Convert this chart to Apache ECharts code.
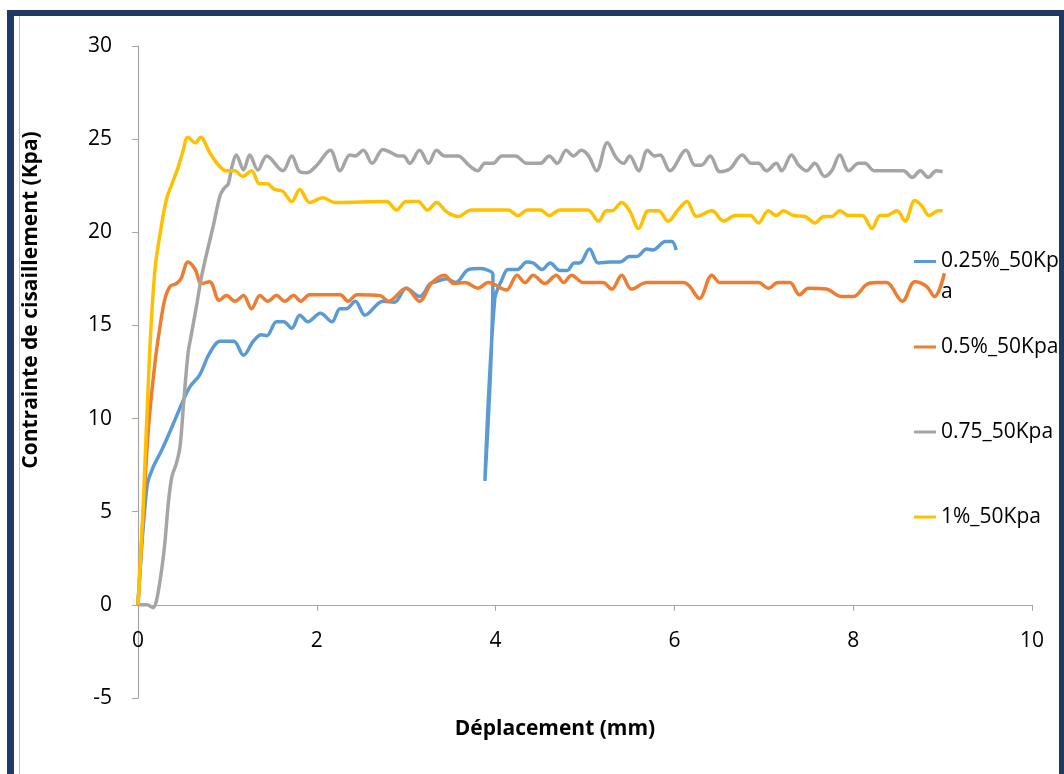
<!DOCTYPE html>
<html>
<head>
<meta charset="utf-8">
<script src="https://cdn.jsdelivr.net/npm/echarts@6/dist/echarts.min.js"></script>
<style>
html,body{margin:0;padding:0;background:#fff;}
#chart{width:1064px;height:774px;}
</style>
</head>
<body>
<div id="chart"></div>
<script>
// ---- Data (x: Déplacement mm, y: Contrainte Kpa) ----
const seriesNames = ['0.25%_50Kpa', '0.5%_50Kpa', '0.75_50Kpa', '1%_50Kpa'];
const xTicks = [0, 2, 4, 6, 8, 10];
const yTicks = [-5, 0, 5, 10, 15, 20, 25, 30];

const blueData = [[0,0],[0.1,6.35],[0.17,7.4],[0.265,8.3],[0.38,9.55],[0.49,10.8],[0.58,11.7],[0.69,12.35],[0.8,13.5],[0.92,14.15],[1.07,14.15],[1.18,13.4],[1.29,14.15],[1.38,14.5],[1.44,14.45],[1.55,15.2],[1.63,15.2],[1.72,14.85],[1.81,15.55],[1.9,15.2],[2.04,15.65],[2.17,15.2],[2.26,15.9],[2.33,15.9],[2.43,16.3],[2.54,15.55],[2.74,16.3],[2.87,16.25],[3.0,17.0],[3.15,16.55],[3.27,17.25],[3.34,17.35],[3.45,17.5],[3.55,17.3],[3.7,18.0],[3.83,18.05],[3.92,17.95],[3.97,17.75],[3.88,6.65],[3.99,16.4],[4.07,17.45],[4.14,18.0],[4.24,18.0],[4.35,18.4],[4.42,18.35],[4.52,18.0],[4.61,18.35],[4.72,17.95],[4.8,17.95],[4.88,18.35],[4.94,18.35],[5.05,19.1],[5.15,18.35],[5.28,18.4],[5.39,18.4],[5.5,18.7],[5.58,18.7],[5.69,19.1],[5.76,19.05],[5.9,19.5],[5.97,19.5],[6.02,19.05]];

const orangeData = [[0,0],[0.06,5.0],[0.115,9.4],[0.19,13.0],[0.245,14.9],[0.3,16.4],[0.36,17.1],[0.43,17.25],[0.48,17.5],[0.56,18.4],[0.64,18.0],[0.71,17.25],[0.8,17.35],[0.91,16.35],[0.99,16.6],[1.085,16.3],[1.18,16.6],[1.27,15.9],[1.365,16.6],[1.45,16.3],[1.55,16.6],[1.64,16.3],[1.74,16.6],[1.82,16.3],[1.92,16.65],[2.26,16.65],[2.35,16.3],[2.45,16.65],[2.71,16.6],[2.8,16.3],[3.0,17.0],[3.15,16.3],[3.28,17.25],[3.43,17.7],[3.53,17.25],[3.66,17.3],[3.8,17.0],[3.92,17.3],[4.12,16.9],[4.24,17.7],[4.33,17.3],[4.42,17.7],[4.55,17.25],[4.68,17.7],[4.76,17.3],[4.85,17.7],[4.98,17.3],[5.2,17.3],[5.3,16.95],[5.41,17.7],[5.52,16.95],[5.69,17.3],[6.1,17.3],[6.17,17.1],[6.28,16.45],[6.42,17.7],[6.51,17.3],[6.94,17.3],[7.05,17.0],[7.16,17.3],[7.29,17.3],[7.4,16.65],[7.5,17.0],[7.7,16.95],[7.87,16.55],[8.0,16.55],[8.15,17.2],[8.26,17.3],[8.37,17.3],[8.55,16.3],[8.69,17.35],[8.82,17.1],[8.91,16.55],[9.02,17.8]];

const grayData = [[0,0],[0.1,0],[0.17,-0.15],[0.21,0.3],[0.265,1.9],[0.3,3.3],[0.34,5.5],[0.38,6.9],[0.43,7.6],[0.47,8.5],[0.51,10.8],[0.56,13.5],[0.6,14.6],[0.66,16.2],[0.71,17.6],[0.77,18.9],[0.84,20.3],[0.92,22.0],[0.97,22.4],[1.01,22.6],[1.05,23.5],[1.1,24.15],[1.18,23.35],[1.25,24.15],[1.34,23.35],[1.44,24.1],[1.62,23.3],[1.72,24.1],[1.81,23.25],[1.89,23.2],[2.0,23.6],[2.15,24.4],[2.26,23.3],[2.37,24.15],[2.43,24.1],[2.52,24.4],[2.62,23.7],[2.74,24.45],[2.82,24.3],[2.91,24.1],[2.97,24.1],[3.04,23.7],[3.15,24.4],[3.25,23.7],[3.34,24.4],[3.43,24.1],[3.58,24.1],[3.7,23.6],[3.8,23.3],[3.88,23.7],[3.97,23.7],[4.07,24.1],[4.22,24.1],[4.35,23.7],[4.5,23.7],[4.6,24.1],[4.69,23.7],[4.79,24.4],[4.87,24.1],[4.96,24.4],[5.04,24.1],[5.13,23.3],[5.25,24.8],[5.35,24.0],[5.43,23.7],[5.5,24.1],[5.6,23.3],[5.7,24.4],[5.78,24.1],[5.84,24.15],[5.95,23.3],[6.13,24.4],[6.23,23.6],[6.3,23.6],[6.4,24.1],[6.51,23.25],[6.62,23.4],[6.76,24.15],[6.86,23.7],[6.94,23.7],[7.03,23.3],[7.14,23.7],[7.2,23.3],[7.31,24.15],[7.39,23.6],[7.48,23.3],[7.57,23.7],[7.68,23.0],[7.76,23.3],[7.85,24.15],[7.95,23.3],[8.06,23.7],[8.13,23.7],[8.24,23.3],[8.56,23.3],[8.66,22.95],[8.75,23.3],[8.84,22.95],[8.93,23.3],[9.0,23.25]];

const yellowData = [[0,0],[0.06,5.5],[0.13,13.5],[0.19,18.0],[0.26,20.3],[0.32,21.8],[0.38,22.6],[0.45,23.5],[0.5,24.3],[0.56,25.1],[0.64,24.8],[0.7,25.1],[0.8,24.3],[0.9,23.6],[0.99,23.3],[1.08,23.3],[1.17,23.0],[1.27,23.3],[1.36,22.6],[1.44,22.6],[1.53,22.3],[1.62,22.2],[1.72,21.65],[1.81,22.3],[1.92,21.6],[2.07,21.85],[2.2,21.6],[2.78,21.65],[2.89,21.2],[3.0,21.65],[3.13,21.65],[3.24,21.2],[3.34,21.6],[3.45,21.1],[3.58,20.85],[3.73,21.2],[4.14,21.2],[4.25,20.9],[4.36,21.2],[4.5,21.2],[4.6,20.9],[4.72,21.2],[5.03,21.2],[5.15,20.6],[5.24,21.15],[5.3,21.15],[5.41,21.6],[5.5,21.15],[5.6,20.2],[5.71,21.15],[5.82,21.15],[5.93,20.6],[6.04,21.2],[6.14,21.65],[6.25,20.85],[6.42,21.15],[6.55,20.6],[6.68,20.9],[6.85,20.9],[6.94,20.5],[7.05,21.15],[7.14,20.9],[7.22,21.15],[7.33,20.9],[7.46,20.85],[7.57,20.5],[7.67,20.85],[7.76,20.85],[7.85,21.15],[7.95,20.9],[8.1,20.9],[8.21,20.2],[8.3,20.9],[8.37,20.9],[8.49,21.15],[8.58,20.6],[8.69,21.7],[8.77,21.4],[8.85,20.9],[8.95,21.15],[9.0,21.15]];

const seriesData = [blueData, orangeData, grayData, yellowData];
const colors = ['#5B9BD5', '#ED7D31', '#A5A5A5', '#FFC000'];

const FONT = 'Open Sans';
const GRID_TOP = 46, GRID_BOTTOM = 76, CH = 774;
// x axis crosses the y axis at value 0: offset it up from the grid bottom
const plotH = CH - GRID_TOP - GRID_BOTTOM;
const zeroOffset = -plotH * (0 - yTicks[0]) / (yTicks[yTicks.length - 1] - yTicks[0]);

const chart = echarts.init(document.getElementById('chart'), null, {renderer: 'canvas'});

const legendTops = [215, 334, 419, 504];
const legends = seriesNames.map((n, i) => {
  const lg = {
    data: [n],
    orient: 'vertical',
    left: 914,
    top: legendTops[i],
    padding: 0,
    icon: 'rect',
    itemWidth: 22,
    itemHeight: 3,
    itemGap: 0,
    textStyle: {fontFamily: FONT, fontSize: 21, color: '#000', lineHeight: 26}
  };
  if (i === 0) {
    // legend label wraps in the reference: icon aligned with the first line
    lg.formatter = function () { return '\n0.25%_50Kp\na'; };
    lg.textStyle = {fontFamily: FONT, fontSize: 21, color: '#000', lineHeight: 31};
  }
  return lg;
});

chart.setOption({
  backgroundColor: '#fff',
  animation: false,
  color: colors,
  grid: {left: 138, right: 32, top: GRID_TOP, bottom: GRID_BOTTOM, containLabel: false, outerBoundsMode: 'none'},
  legend: legends,
  xAxis: {
    type: 'value', min: xTicks[0], max: xTicks[xTicks.length - 1], interval: 2,
    position: 'bottom', offset: zeroOffset,
    name: 'Déplacement (mm)', nameLocation: 'middle', nameGap: 114,
    nameTextStyle: {fontFamily: FONT, fontSize: 21, fontWeight: 'bold', color: '#000', padding: [0, 60, 0, 0]},
    axisLine: {onZero: false, lineStyle: {color: '#A6A6A6', width: 1.2}},
    axisTick: {show: true, length: 6, lineStyle: {color: '#A6A6A6'}},
    axisLabel: {margin: 26, fontFamily: FONT, fontSize: 21, color: '#000'},
    splitLine: {show: false}
  },
  yAxis: {
    type: 'value', min: yTicks[0], max: yTicks[yTicks.length - 1], interval: 5,
    name: 'Contrainte de cisaillement (Kpa)', nameLocation: 'middle', nameGap: 96,
    nameTextStyle: {fontFamily: FONT, fontSize: 21, fontWeight: 'bold', color: '#000', padding: [0, 0, 0, 144]},
    axisLine: {show: true, lineStyle: {color: '#A6A6A6', width: 1.2}},
    axisTick: {show: true, length: 6, lineStyle: {color: '#A6A6A6'}},
    axisLabel: {margin: 26, fontFamily: FONT, fontSize: 21, color: '#000'},
    splitLine: {show: false}
  },
  series: seriesNames.map((n, i) => ({
    name: n, type: 'line', data: seriesData[i], smooth: 0.35,
    symbol: 'none', showSymbol: false,
    lineStyle: {width: 3.5, color: colors[i]},
    itemStyle: {color: colors[i]},
    z: 2 + i
  })),
  graphic: {
    elements: [
      {type: 'rect', z: 100, shape: {x: 19, y: 16, width: 1, height: 758}, style: {fill: '#BFBFBF'}},
      {type: 'rect', z: 100, shape: {x: 7, y: 10, width: 7, height: 764}, style: {fill: '#1F3864'}},
      {type: 'rect', z: 100, shape: {x: 7, y: 10, width: 1057, height: 6}, style: {fill: '#1F3864'}},
      {type: 'rect', z: 100, shape: {x: 1059, y: 10, width: 5, height: 764}, style: {fill: '#1F3864'}}
    ]
  }
});
</script>
</body>
</html>
